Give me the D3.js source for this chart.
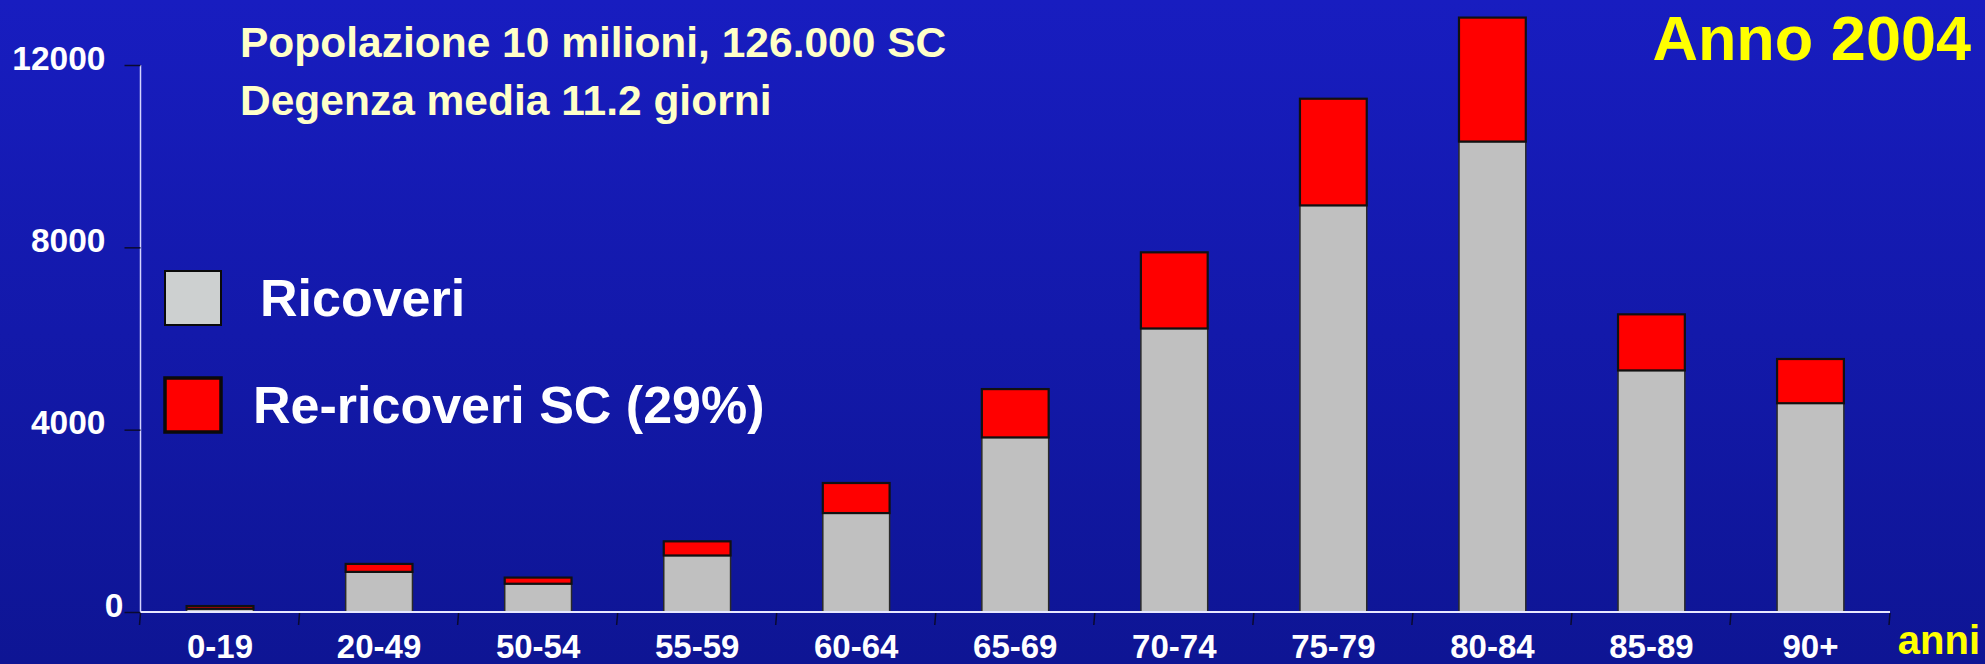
<!DOCTYPE html>
<html>
<head>
<meta charset="utf-8">
<script src="https://cdn.jsdelivr.net/npm/d3@7"></script>
<style>
  html, body { margin: 0; padding: 0; background: #1219a8; }
  svg { display: block; }
  text { font-family: "Liberation Sans", Arial, sans-serif; }
</style>
</head>
<body>
<svg id="chart" width="1985" height="664"></svg>
<script>
// Age groups and admissions per group (Ricoveri = first admissions, Re-ricoveri = readmissions)
const ageGroups = ["0-19", "20-49", "50-54", "55-59", "60-64", "65-69", "70-74", "75-79", "80-84", "85-89", "90+"];
const ricoveri   = [70, 880, 620, 1240, 2170, 3830, 6220, 8920, 10320, 5300, 4580];
const reRicoveri = [60, 175, 135, 310, 660, 1060, 1670, 2340, 2720, 1230, 970];
const yTicks = [0, 4000, 8000, 12000];

const titleLines = ["Popolazione 10 milioni, 126.000 SC", "Degenza media 11.2 giorni"];
const yearLabel = "Anno 2004";
const xUnit = "anni";
const legendItems = ["Ricoveri", "Re-ricoveri SC (29%)"];

const W = 1985, H = 664;
const svg = d3.select("#chart");

// background gradient
const defs = svg.append("defs");
const grad = defs.append("linearGradient").attr("id", "bg")
  .attr("x1", 0).attr("y1", 0).attr("x2", 0).attr("y2", 1);
grad.append("stop").attr("offset", "0%").attr("stop-color", "#181dc0");
grad.append("stop").attr("offset", "100%").attr("stop-color", "#0e1594");
svg.append("rect").attr("width", W).attr("height", H).attr("fill", "url(#bg)");

// scales
const plot = { left: 140.5, right: 1890, top: 65, bottom: 612 };
const x = d3.scaleBand().domain(ageGroups)
  .range([plot.left, plot.right]).paddingInner(0.58).paddingOuter(0.29);
const y = d3.scaleLinear().domain([0, 12000]).range([plot.bottom, plot.top]);

// stacked data
const rows = ageGroups.map((g, i) => ({ group: g, ricoveri: ricoveri[i], reRicoveri: reRicoveri[i] }));
const stack = d3.stack().keys(["ricoveri", "reRicoveri"])(rows);
const fills = { ricoveri: "#c0c0c0", reRicoveri: "#ff0000" };
const strokes = { ricoveri: "#2a2a2a", reRicoveri: "#111111" };
const strokeW = { ricoveri: 1.5, reRicoveri: 2.2 };

// y axis
const yAxis = d3.axisLeft(y).tickValues(yTicks).tickSize(16).tickFormat(d3.format("d"));
const gy = svg.append("g").attr("transform", `translate(${plot.left},0)`).call(yAxis);
gy.select(".domain").attr("stroke", "#d4d4ff").attr("stroke-width", 1.5)
  .attr("d", `M0,${plot.top}V${plot.bottom}`);
gy.selectAll(".tick line").attr("stroke", "#0a0a30").attr("stroke-width", 1.5);
gy.selectAll(".tick text")
  .attr("fill", "#ffffff").attr("font-size", 33.5).attr("font-weight", "bold")
  .attr("font-family", "'Liberation Sans', Arial, sans-serif")
  .attr("x", d => d === 0 ? -17 : -35).attr("dy", "0.12em");

// bars
svg.append("g").selectAll("g").data(stack).join("g")
  .attr("fill", d => fills[d.key])
  .attr("stroke", d => strokes[d.key])
  .attr("stroke-width", d => strokeW[d.key])
  .selectAll("rect").data(d => d).join("rect")
  .attr("x", d => x(d.data.group))
  .attr("width", x.bandwidth())
  .attr("y", d => y(d[1]))
  .attr("height", d => y(d[0]) - y(d[1]));

// x axis
const xAxis = d3.axisBottom(x).tickSize(0).tickPadding(0);
const gx = svg.append("g").attr("transform", `translate(0,${plot.bottom})`).call(xAxis);
gx.select(".domain").attr("stroke", "#e8e8ff").attr("stroke-width", 2)
  .attr("d", `M${plot.left},0H${plot.right}`);
gx.selectAll(".tick text")
  .attr("fill", "#ffffff").attr("font-size", 33).attr("font-weight", "bold")
  .attr("font-family", "'Liberation Sans', Arial, sans-serif")
  .attr("y", 45.5).attr("dy", 0);

// boundary ticks between categories
const bounds = d3.range(ageGroups.length + 1).map(i => plot.left + i * x.step());
gx.selectAll(".bound").data(bounds).join("line")
  .attr("class", "bound")
  .attr("x1", d => d).attr("x2", d => d - 1)
  .attr("y1", 1).attr("y2", 13)
  .attr("stroke", "#0a0a30").attr("stroke-width", 1.5);

// x unit
svg.append("text").attr("x", 1980).attr("y", 654).attr("text-anchor", "end")
  .attr("fill", "#ffff00").attr("font-size", 40).attr("font-weight", "bold")
  .text(xUnit);

// titles
svg.selectAll(".title").data(titleLines).join("text")
  .attr("class", "title")
  .attr("x", 240).attr("y", (d, i) => 57 + i * 58)
  .attr("fill", "#ffffc8").attr("font-size", 42.5).attr("font-weight", "bold")
  .text(d => d);

svg.append("text").attr("x", 1971).attr("y", 60).attr("text-anchor", "end")
  .attr("fill", "#ffff00").attr("font-size", 63).attr("font-weight", "bold")
  .text(yearLabel);

// legend
const legend = svg.append("g");
const legendKeys = ["ricoveri", "reRicoveri"];
const legendY = [271, 378];
const legendTextX = [260, 253];
legend.selectAll("rect").data(legendKeys).join("rect")
  .attr("x", 165).attr("y", (d, i) => legendY[i])
  .attr("width", 56).attr("height", 54)
  .attr("fill", d => d === "ricoveri" ? "#cdd0d0" : "#ff0000")
  .attr("stroke", "#0a0a0a").attr("stroke-width", (d, i) => i === 0 ? 2 : 3.5);
legend.selectAll("text").data(legendItems).join("text")
  .attr("x", (d, i) => legendTextX[i]).attr("y", (d, i) => legendY[i] + 45)
  .attr("fill", "#ffffff").attr("font-size", 52).attr("font-weight", "bold")
  .text(d => d);
</script>
</body>
</html>
